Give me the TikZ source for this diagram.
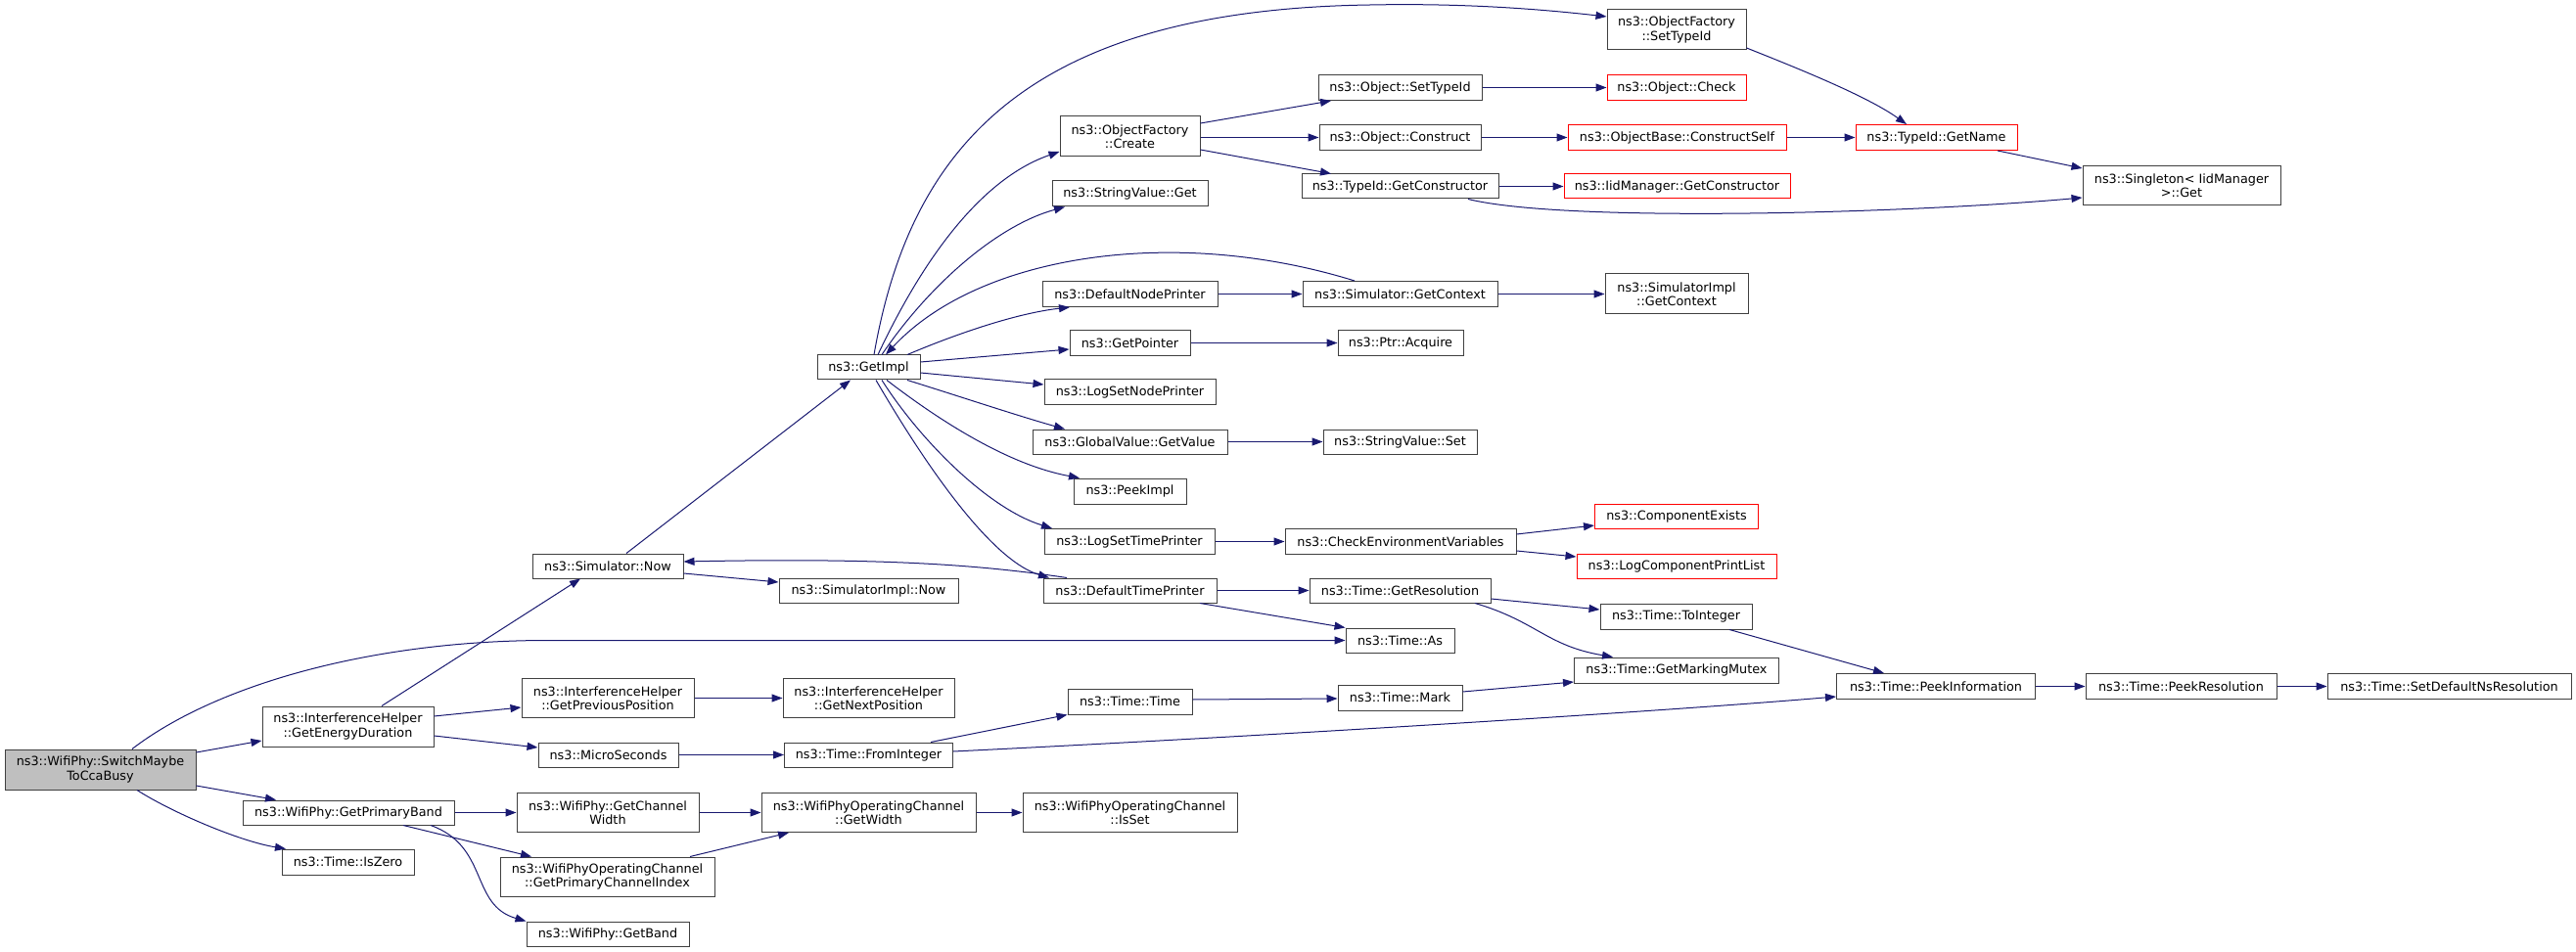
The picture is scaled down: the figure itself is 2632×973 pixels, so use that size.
\documentclass[tikz,border=0pt]{standalone}
\usepackage{fontspec}
\setmainfont{DejaVu Sans}
\usetikzlibrary{arrows.meta}
\definecolor{edgeblue}{HTML}{191970}
\definecolor{boxgray}{HTML}{404040}
\definecolor{fillgray}{HTML}{BFBFBF}
\definecolor{boxred}{HTML}{FF0000}
\begin{document}
\begin{tikzpicture}[x=1pt,y=-1pt,
  nd/.style={draw=boxgray, line width=1pt, rectangle, inner sep=0pt, align=center,
    font=\fontsize{12.8}{14.4}\selectfont, fill=white},
  bx/.style n args={2}{minimum width=#1pt, minimum height=#2pt},
  rednd/.style={draw=boxred},
  mainnd/.style={fill=fillgray},
  e/.style={draw=edgeblue, line width=1pt, -{Triangle[length=11pt,width=8pt]}, edgeblue}
]
\useasboundingbox (0,0) rectangle (2632,973);

% column 1
\node[nd, mainnd, bx={195}{41}] (main) at (102.5,786.5) {ns3::WifiPhy::SwitchMaybe\\ToCcaBusy};
% column 2
\node[nd, bx={175}{41}] (ged) at (355.5,742.5) {ns3::InterferenceHelper\\::GetEnergyDuration};
\node[nd, bx={216}{25}] (gpb) at (356,830.5) {ns3::WifiPhy::GetPrimaryBand};
\node[nd, bx={135}{26}] (iszero) at (355.5,881) {ns3::Time::IsZero};
% column 3
\node[nd, bx={154}{25}] (simnow) at (621,578.5) {ns3::Simulator::Now};
\node[nd, bx={176}{40}] (gprev) at (621,713.5) {ns3::InterferenceHelper\\::GetPreviousPosition};
\node[nd, bx={143}{25}] (micro) at (621.5,771.5) {ns3::MicroSeconds};
\node[nd, bx={186}{40}] (gcw) at (621,830.5) {ns3::WifiPhy::GetChannel\\Width};
\node[nd, bx={219}{40}] (gpci) at (620.5,896) {ns3::WifiPhyOperatingChannel\\::GetPrimaryChannelIndex};
\node[nd, bx={166}{25}] (gband) at (621,954.5) {ns3::WifiPhy::GetBand};
% column 4
\node[nd, bx={105}{25}] (getimpl) at (887.5,375.5) {ns3::GetImpl};
\node[nd, bx={183}{25}] (simimplnow) at (887.5,603.5) {ns3::SimulatorImpl::Now};
\node[nd, bx={175}{40}] (gnext) at (887.5,713.5) {ns3::InterferenceHelper\\::GetNextPosition};
\node[nd, bx={172}{25}] (fromint) at (887.5,771.5) {ns3::Time::FromInteger};
\node[nd, bx={219}{40}] (gwidth) at (887.5,830.5) {ns3::WifiPhyOperatingChannel\\::GetWidth};
% column 5
\node[nd, bx={143}{41}] (ofcreate) at (1154.5,139.5) {ns3::ObjectFactory\\::Create};
\node[nd, bx={159}{26}] (svget) at (1154.5,198) {ns3::StringValue::Get};
\node[nd, bx={179}{26}] (dnp) at (1154.5,300.5) {ns3::DefaultNodePrinter};
\node[nd, bx={123}{26}] (getptr) at (1154.5,350.5) {ns3::GetPointer};
\node[nd, bx={175}{26}] (lsnp) at (1154.5,401) {ns3::LogSetNodePrinter};
\node[nd, bx={199}{25}] (gvgv) at (1154.5,451.5) {ns3::GlobalValue::GetValue};
\node[nd, bx={115}{26}] (peekimpl) at (1154.5,502) {ns3::PeekImpl};
\node[nd, bx={174}{26}] (lstp) at (1154,553.5) {ns3::LogSetTimePrinter};
\node[nd, bx={177}{25}] (dtp) at (1154.5,603.5) {ns3::DefaultTimePrinter};
\node[nd, bx={127}{26}] (ttime) at (1154.5,717) {ns3::Time::Time};
\node[nd, bx={219}{40}] (isset) at (1154.5,830.5) {ns3::WifiPhyOperatingChannel\\::IsSet};
% column 6
\node[nd, bx={167}{26}] (osettype) at (1430.5,89.5) {ns3::Object::SetTypeId};
\node[nd, bx={165}{26}] (oconstruct) at (1430.5,140.5) {ns3::Object::Construct};
\node[nd, bx={201}{25}] (tgetcons) at (1430.5,190.5) {ns3::TypeId::GetConstructor};
\node[nd, bx={199}{26}] (simgetctx) at (1430.5,300.5) {ns3::Simulator::GetContext};
\node[nd, bx={128}{26}] (acquire) at (1431,350.5) {ns3::Ptr::Acquire};
\node[nd, bx={157}{25}] (svset) at (1430.5,451.5) {ns3::StringValue::Set};
\node[nd, bx={236}{26}] (cev) at (1431,553.5) {ns3::CheckEnvironmentVariables};
\node[nd, bx={185}{25}] (getres) at (1430.5,603.5) {ns3::Time::GetResolution};
\node[nd, bx={111}{25}] (tas) at (1430.5,654.5) {ns3::Time::As};
\node[nd, bx={127}{26}] (tmark) at (1430.5,713) {ns3::Time::Mark};
% column 7
\node[nd, bx={142}{41}] (ofsettype) at (1713,30.5) {ns3::ObjectFactory\\::SetTypeId};
\node[nd, rednd, bx={142}{26}] (ocheck) at (1713,89.5) {ns3::Object::Check};
\node[nd, rednd, bx={223}{26}] (cself) at (1713.5,140.5) {ns3::ObjectBase::ConstructSelf};
\node[nd, rednd, bx={231}{25}] (iidgetcons) at (1713.5,190.5) {ns3::IidManager::GetConstructor};
\node[nd, bx={146}{41}] (simimplctx) at (1713,300.5) {ns3::SimulatorImpl\\::GetContext};
\node[nd, rednd, bx={167}{25}] (cexists) at (1713,527.5) {ns3::ComponentExists};
\node[nd, rednd, bx={204}{25}] (lcpl) at (1713,578.5) {ns3::LogComponentPrintList};
\node[nd, bx={155}{26}] (toint) at (1712.5,630) {ns3::Time::ToInteger};
\node[nd, bx={209}{26}] (gmm) at (1713,685) {ns3::Time::GetMarkingMutex};
% column 8
\node[nd, rednd, bx={165}{26}] (getname) at (1978.5,140.5) {ns3::TypeId::GetName};
\node[nd, bx={203}{26}] (peekinfo) at (1978,701.5) {ns3::Time::PeekInformation};
% column 9
\node[nd, bx={202}{40}] (singleton) at (2229,190) {ns3::Singleton< IidManager\\ >::Get};
\node[nd, bx={195}{26}] (peekres) at (2228.5,701.5) {ns3::Time::PeekResolution};
% column 10
\node[nd, bx={249}{26}] (setdef) at (2502.5,701.5) {ns3::Time::SetDefaultNsResolution};

% ---- edges from main
\draw[e] (main.east |- 0,769) -- (ged.west |- 0,757);
\draw[e] (main.east |- 0,803) -- (gpb.north -| 282,0);
\draw[e] (main.south -| 140,0) .. controls (175,830) and (245,860) .. (iszero.north -| 292,0);
\draw[e] (main.north -| 135,0) .. controls (220,700) and (380,654.5) .. (560,654.5) -- (tas.west);
% ---- column 2
\draw[e] (ged.north -| 390,0) -- (simnow.south -| 593,0);
\draw[e] (ged.east |- 0,732) -- (gprev.west |- 0,723);
\draw[e] (ged.east |- 0,752) -- (micro.west |- 0,764);
\draw[e] (gpb) -- (gcw);
\draw[e] (gpb.south -| 412,0) -- (gpci.north -| 543,0);
\draw[e] (gpb.south -| 440,0) .. controls (500,865) and (480,925) .. (gband.north west);
% ---- column 3
\draw[e] (simnow.north -| 640,0) -- (getimpl.south -| 869,0);
\draw[e] (simnow.east |- 0,586) -- (simimplnow.west |- 0,595);
\draw[e] (gprev) -- (gnext);
\draw[e] (micro) -- (fromint);
\draw[e] (gcw) -- (gwidth);
\draw[e] (gpci.north -| 705,0) -- (gwidth.south -| 806,0);
% ---- column 4
\draw[e] (getimpl.north -| 893,0) .. controls (930,150) and (1050,10) .. (1400,5)
   .. controls (1500,3) and (1580,10) .. (ofsettype.west |- 0,17);
\draw[e] (getimpl.north -| 897,0) .. controls (950,250) and (1010,180) .. (ofcreate.west |- 0,155);
\draw[e] (getimpl.north -| 901,0) .. controls (950,290) and (1020,230) .. (svget.south -| 1088,0);
\draw[e] (simgetctx.north -| 1384,0) .. controls (1200,230) and (1000,260) .. (getimpl.north -| 905,0);
\draw[e] (getimpl.north -| 927,0) .. controls (980,340) and (1040,320) .. (dnp.south -| 1093,0);
\draw[e] (getimpl.east |- 0,370) -- (getptr.west |- 0,357);
\draw[e] (getimpl.east |- 0,381) -- (lsnp.west |- 0,393);
\draw[e] (getimpl.south -| 927,0) .. controls (980,405) and (1040,425) .. (gvgv.north -| 1088,0);
\draw[e] (getimpl.south -| 906,0) .. controls (960,430) and (1030,475) .. (peekimpl.north -| 1103,0);
\draw[e] (getimpl.south -| 901,0) .. controls (940,450) and (1010,520) .. (lstp.north -| 1075,0);
\draw[e] (getimpl.south -| 895,0) .. controls (960,500) and (1020,575) .. (dtp.north -| 1072,0);
\draw[e] (dtp.north -| 1090,0) .. controls (1000,577) and (900,570) .. (simnow.east |- 0,574);
\draw[e] (fromint.north -| 951,0) -- (ttime.south west);
\draw[e] (fromint.east |- 0,768) .. controls (1300,752) and (1700,727) .. (peekinfo.west |- 0,712);
\draw[e] (gwidth) -- (isset);
% ---- column 5
\draw[e] (ofcreate.east |- 0,126) -- (osettype.south -| 1360,0);
\draw[e] (ofcreate.east |- 0,140.5) -- (oconstruct.west);
\draw[e] (ofcreate.east |- 0,153) -- (tgetcons.north -| 1360,0);
\draw[e] (dnp) -- (simgetctx);
\draw[e] (getptr) -- (acquire);
\draw[e] (gvgv) -- (svset);
\draw[e] (lstp) -- (cev);
\draw[e] (dtp) -- (getres);
\draw[e] (dtp.south -| 1226,0) -- (tas.north west);
\draw[e] (ttime.east |- 0,715) -- (tmark.west |- 0,714);
% ---- column 6
\draw[e] (osettype) -- (ocheck);
\draw[e] (oconstruct) -- (cself);
\draw[e] (tgetcons) -- (iidgetcons);
\draw[e] (tgetcons.south -| 1500,0) .. controls (1600,228) and (1950,218) .. (singleton.west |- 0,202);
\draw[e] (simgetctx) -- (simimplctx);
\draw[e] (cev.east |- 0,546) -- (cexists.west |- 0,537);
\draw[e] (cev.east |- 0,563) -- (lcpl.west |- 0,569);
\draw[e] (getres.east |- 0,612) -- (toint.west |- 0,623);
\draw[e] (getres.south -| 1507,0) .. controls (1570,635) and (1580,660) .. (gmm.north -| 1648,0);
\draw[e] (tmark.east |- 0,707) -- (gmm.west |- 0,697);
% ---- column 7+
\draw[e] (cself) -- (getname);
\draw[e] (ofsettype.east |- 0,49) .. controls (1850,75) and (1910,100) .. (getname.north -| 1948,0);
\draw[e] (getname.south -| 2041,0) -- (singleton.west |- 0,172);
\draw[e] (toint.south -| 1767,0) -- (peekinfo.north -| 1925,0);
\draw[e] (peekinfo) -- (peekres);
\draw[e] (peekres) -- (setdef);
\end{tikzpicture}
\end{document}
